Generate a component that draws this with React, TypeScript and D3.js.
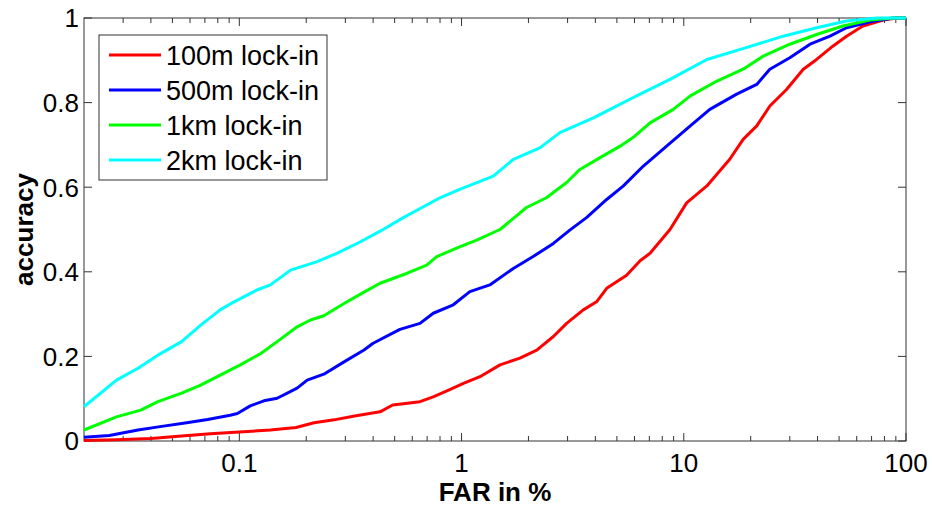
import React from "react";
import * as d3 from "d3";

// FAR (%) vs accuracy
const red100m: [number, number][] = [
  [0.02, 0.001], [0.028, 0.003], [0.04, 0.006], [0.055, 0.012], [0.074, 0.017],
  [0.1, 0.021], [0.138, 0.026], [0.18, 0.032], [0.217, 0.043], [0.267, 0.05],
  [0.33, 0.059], [0.43, 0.069], [0.49, 0.085], [0.65, 0.093], [0.75, 0.105],
  [0.89, 0.122], [1.02, 0.136], [1.21, 0.152], [1.49, 0.18], [1.83, 0.196],
  [2.18, 0.215], [2.59, 0.247], [2.97, 0.278], [3.53, 0.31], [4.05, 0.329],
  [4.5, 0.361], [5.53, 0.392], [6.36, 0.426], [7.05, 0.444], [8.67, 0.5],
  [10.3, 0.563], [12.7, 0.603], [16.1, 0.666], [18.5, 0.713], [21.3, 0.745],
  [24.4, 0.792], [29, 0.831], [34.5, 0.879], [39.6, 0.902], [47, 0.934],
  [54, 0.957], [64, 0.981], [79, 0.995], [91, 1], [100, 1],
];
const blue500m: [number, number][] = [
  [0.02, 0.009], [0.026, 0.013], [0.035, 0.026], [0.044, 0.034], [0.058, 0.043],
  [0.072, 0.051], [0.091, 0.061], [0.098, 0.065], [0.112, 0.083], [0.129, 0.095],
  [0.148, 0.101], [0.182, 0.125], [0.202, 0.144], [0.24, 0.158], [0.296, 0.187],
  [0.364, 0.215], [0.4, 0.231], [0.528, 0.264], [0.65, 0.278], [0.746, 0.302],
  [0.918, 0.322], [1.09, 0.353], [1.34, 0.369], [1.71, 0.408], [2.1, 0.436],
  [2.59, 0.467], [3.08, 0.499], [3.65, 0.528], [4.5, 0.571], [5.35, 0.603],
  [6.58, 0.65], [8.37, 0.697], [10.7, 0.745], [13.1, 0.784], [17.3, 0.82],
  [21.3, 0.843], [24.4, 0.879], [30, 0.906], [37, 0.938], [45.5, 0.957],
  [54, 0.977], [69, 0.991], [87.5, 1], [100, 1],
];
const green1km: [number, number][] = [
  [0.02, 0.026], [0.028, 0.057], [0.036, 0.073], [0.043, 0.093], [0.055, 0.113],
  [0.067, 0.132], [0.085, 0.16], [0.101, 0.18], [0.125, 0.207], [0.148, 0.235],
  [0.182, 0.27], [0.209, 0.286], [0.24, 0.296], [0.296, 0.325], [0.364, 0.352],
  [0.43, 0.373], [0.566, 0.396], [0.697, 0.416], [0.773, 0.436], [0.98, 0.459],
  [1.17, 0.475], [1.49, 0.5], [1.96, 0.552], [2.41, 0.575], [2.97, 0.611],
  [3.41, 0.642], [4.2, 0.67], [5.17, 0.697], [6.0, 0.72], [7.05, 0.752],
  [8.97, 0.784], [10.7, 0.816], [14.1, 0.851], [18.5, 0.879], [22.8, 0.91],
  [30, 0.938], [39.6, 0.961], [52, 0.981], [69, 0.995], [87.5, 1], [100, 1],
];
const cyan2km: [number, number][] = [
  [0.02, 0.081], [0.028, 0.144], [0.035, 0.172], [0.043, 0.203], [0.055, 0.235],
  [0.067, 0.274], [0.082, 0.31], [0.091, 0.324], [0.12, 0.357], [0.138, 0.369],
  [0.17, 0.404], [0.224, 0.424], [0.276, 0.444], [0.351, 0.471], [0.43, 0.496],
  [0.547, 0.528], [0.8, 0.575], [0.98, 0.595], [1.39, 0.626], [1.71, 0.666],
  [2.25, 0.693], [2.77, 0.729], [3.92, 0.764], [4.66, 0.784], [5.72, 0.808],
  [6.36, 0.82], [8.67, 0.855], [12.7, 0.902], [19.1, 0.93], [28, 0.957],
  [39.6, 0.977], [54, 0.993], [74, 1], [100, 1],
];

const seriesNames = ["100m lock-in", "500m lock-in", "1km lock-in", "2km lock-in"];
const seriesColors = ["#ff0000", "#0000ff", "#00ff00", "#00ffff"];
const seriesData = [red100m, blue500m, green1km, cyan2km];

const xMajor = [0.1, 1, 10, 100];
const xMajorLabels = ["0.1", "1", "10", "100"];
const yTicks = [0, 0.2, 0.4, 0.6, 0.8, 1];
const yTickLabels = ["0", "0.2", "0.4", "0.6", "0.8", "1"];

const App = () => {
  const width = 932;
  const height = 507;
  const margin = { left: 84, right: 26, top: 18, bottom: 66 };
  const font = "'Liberation Sans', Arial, sans-serif";
  const fs = 26;
  const axisColor = "#333";

  const x = d3.scaleLog().domain([0.02, 100]).range([margin.left, width - margin.right]);
  const y = d3.scaleLinear().domain([0, 1]).range([height - margin.bottom, margin.top]);
  const [x0, x1] = x.range();
  const [y0, y1] = y.range();

  // minor log ticks 2..9 per decade
  const xMinor: number[] = [];
  [0.01, 0.1, 1, 10].forEach((dec) => {
    for (let k = 2; k <= 9; k++) {
      const v = +(dec * k).toPrecision(3);
      if (v > 0.02 && v < 100) xMinor.push(v);
    }
  });

  const line = d3
    .line<[number, number]>()
    .x((d) => x(d[0]))
    .y((d) => y(d[1]));

  const major = 8;
  const minor = 5;

  const legend = { x: 99, y: 35, w: 228, h: 145, rowY: 55, rowStep: 35 };

  return (
    <svg
      width={width}
      height={height}
      style={{ position: "absolute", left: 0, top: 0, background: "#fff" }}
      fontFamily={font}
    >
      <rect x={0} y={0} width={width} height={height} fill="#fff" />

      {/* ticks */}
      <g stroke={axisColor} strokeWidth={1}>
        {xMinor.map((v) => (
          <g key={"mn" + v}>
            <line x1={x(v)} x2={x(v)} y1={y0} y2={y0 - minor} />
            <line x1={x(v)} x2={x(v)} y1={y1} y2={y1 + minor} />
          </g>
        ))}
        {xMajor.map((v) => (
          <g key={"mj" + v}>
            <line x1={x(v)} x2={x(v)} y1={y0} y2={y0 - major} />
            <line x1={x(v)} x2={x(v)} y1={y1} y2={y1 + major} />
          </g>
        ))}
        {yTicks.map((v) => (
          <g key={"y" + v}>
            <line x1={x0} x2={x0 + major} y1={y(v)} y2={y(v)} />
            <line x1={x1} x2={x1 - major} y1={y(v)} y2={y(v)} />
          </g>
        ))}
      </g>

      {/* frame */}
      <rect
        x={x0}
        y={y1}
        width={x1 - x0}
        height={y0 - y1}
        fill="none"
        stroke={axisColor}
        strokeWidth={1}
      />

      {/* curves on top of the frame */}
      <g fill="none" strokeWidth={3} strokeLinejoin="round">
        {seriesData.map((d, i) => (
          <path key={i} d={line(d) || ""} stroke={seriesColors[i]} />
        ))}
      </g>

      {/* tick labels */}
      <g fontSize={fs} fill="#000">
        {xMajor.map((v, i) => (
          <text key={"xl" + v} x={x(v)} y={y0 + 31} textAnchor="middle">
            {xMajorLabels[i]}
          </text>
        ))}
        {yTicks.map((v, i) => (
          <text key={"yl" + v} x={x0 - 5} y={y(v)} dy="0.36em" textAnchor="end">
            {yTickLabels[i]}
          </text>
        ))}
      </g>

      {/* axis titles */}
      <text
        x={(x0 + x1) / 2}
        y={501}
        textAnchor="middle"
        fontSize={fs}
        fontWeight="bold"
      >
        FAR in %
      </text>
      <text
        transform={`translate(${33},${(y0 + y1) / 2}) rotate(-90)`}
        textAnchor="middle"
        fontSize={fs}
        fontWeight="bold"
      >
        accuracy
      </text>

      {/* legend */}
      <g>
        <rect
          x={legend.x}
          y={legend.y}
          width={legend.w}
          height={legend.h}
          fill="#fff"
          stroke={axisColor}
          strokeWidth={1}
        />
        {seriesNames.map((name, i) => {
          const ly = legend.rowY + i * legend.rowStep;
          return (
            <g key={name}>
              <line x1={109} x2={161} y1={ly} y2={ly} stroke={seriesColors[i]} strokeWidth={3} />
              <text x={166} y={ly} dy="0.36em" fontSize={27}>
                {name}
              </text>
            </g>
          );
        })}
      </g>
    </svg>
  );
};

export default App;
